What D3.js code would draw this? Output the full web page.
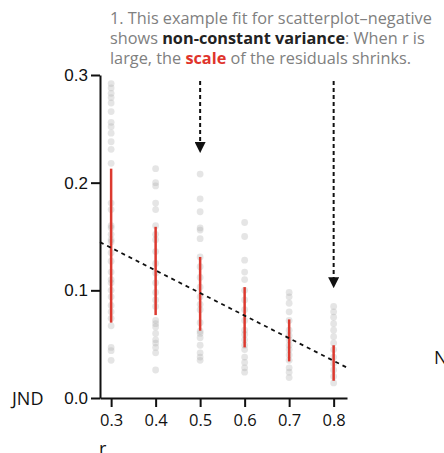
<!DOCTYPE html>
<html>
<head>
<meta charset="utf-8">
<script src="https://cdn.jsdelivr.net/npm/d3@7"></script>
<style>
  body { margin: 0; background: #fff; }
  svg text { font-family: "Open Sans", Lato, sans-serif; }
</style>
</head>
<body>
<div id="chart"></div>
<script>
// correlation levels on the x axis
var rLevels = [0.3, 0.4, 0.5, 0.6, 0.7, 0.8];

var jnd03 = [0.292, 0.288, 0.283, 0.279, 0.274, 0.266, 0.256, 0.252, 0.246, 0.238, 0.231, 0.218,
             0.181, 0.175, 0.160, 0.158, 0.152, 0.147, 0.145, 0.135, 0.127, 0.117, 0.110, 0.107,
             0.100, 0.094, 0.086, 0.080, 0.074, 0.067, 0.047, 0.044, 0.035];
var jnd04 = [0.213, 0.200, 0.197, 0.181, 0.175, 0.160, 0.152, 0.147, 0.136, 0.125, 0.116, 0.107,
             0.098, 0.091, 0.085, 0.072, 0.069, 0.066, 0.060, 0.054, 0.051, 0.047, 0.042, 0.026];
var jnd05 = [0.208, 0.185, 0.173, 0.158, 0.156, 0.148, 0.131, 0.122, 0.112, 0.103, 0.094, 0.087,
             0.082, 0.070, 0.062, 0.060, 0.056, 0.049, 0.042, 0.038, 0.035];
var jnd06 = [0.163, 0.150, 0.128, 0.117, 0.110, 0.100, 0.091, 0.082, 0.072, 0.063, 0.059, 0.054,
             0.049, 0.045, 0.038, 0.033, 0.028, 0.024];
var jnd07 = [0.098, 0.094, 0.088, 0.080, 0.072, 0.063, 0.058, 0.054, 0.049, 0.045, 0.040, 0.035,
             0.028, 0.024, 0.019];
var jnd08 = [0.085, 0.080, 0.075, 0.069, 0.063, 0.057, 0.051, 0.045, 0.038, 0.032, 0.026, 0.020, 0.014];

// red interval per level
var spreadLo = [0.070, 0.077, 0.0625, 0.047, 0.034, 0.016];
var spreadHi = [0.213, 0.159, 0.131, 0.103, 0.073, 0.049];

// dashed fit: jnd = fitA + fitB * r
var fitA = 0.2025, fitB = -0.21;

var yTicks = [0, 0.1, 0.2, 0.3];

// arrows pointing at r = 0.5 and r = 0.8, tip value
var arrowR = [0.5, 0.8];
var arrowTip = [0.2275, 0.102];

var width = 444, height = 453;

var svg = d3.select("#chart").append("svg")
    .attr("width", width)
    .attr("height", height);

var x = d3.scaleLinear().domain([0.275, 0.83]).range([100, 347]);
var y = d3.scaleLinear().domain([0, 0.3]).range([398, 75]);

var groups = [jnd03, jnd04, jnd05, jnd06, jnd07, jnd08];
var points = [];
groups.forEach(function(g, i) {
  g.forEach(function(v) { points.push({r: rLevels[i], v: v}); });
});

// dots
svg.append("g").selectAll("circle")
    .data(points)
    .enter().append("circle")
    .attr("cx", function(d) { return x(d.r); })
    .attr("cy", function(d) { return y(d.v); })
    .attr("r", 3.4)
    .style("fill", "#a8a8a8")
    .style("opacity", 0.3);

// red spread lines
svg.append("g").selectAll("line")
    .data(rLevels)
    .enter().append("line")
    .attr("x1", function(d) { return x(d); })
    .attr("x2", function(d) { return x(d); })
    .attr("y1", function(d, i) { return y(spreadLo[i]); })
    .attr("y2", function(d, i) { return y(spreadHi[i]); })
    .style("stroke", "#dc3a30")
    .style("stroke-width", 2.5);

// fit line
var r0 = x.domain()[0], r1 = x.domain()[1];
svg.append("line")
    .attr("x1", x(r0)).attr("y1", y(fitA + fitB * r0))
    .attr("x2", x(r1)).attr("y2", y(fitA + fitB * r1))
    .style("stroke", "#111")
    .style("stroke-width", 1.8)
    .style("stroke-dasharray", "4,4");

// axes
var xAxis = svg.append("g")
    .attr("transform", "translate(0,398)")
    .call(d3.axisBottom(x).tickValues(rLevels).tickFormat(d3.format(".1f")).tickSize(9).tickSizeOuter(0));
xAxis.selectAll("text").style("font-size", "16.5px").attr("dy", "0.95em").style("fill", "#111");

var yAxis = svg.append("g")
    .attr("transform", "translate(100,0)")
    .call(d3.axisLeft(y).tickValues(yTicks).tickFormat(d3.format(".1f")).tickSize(9).tickSizeOuter(0));
yAxis.selectAll("text").style("font-size", "17px").style("font-family", "'Liberation Sans', Arial, sans-serif").style("fill", "#111");

svg.selectAll(".domain, .tick line").style("stroke", "#111").style("stroke-width", 2);

// arrows
svg.append("defs").append("marker")
    .attr("id", "tri")
    .attr("viewBox", "0 0 10 10")
    .attr("refX", 5).attr("refY", 5)
    .attr("markerWidth", 5.5).attr("markerHeight", 5.5)
    .attr("orient", "auto")
    .attr("markerUnits", "strokeWidth")
  .append("path")
    .attr("d", "M0,0L10,5L0,10Z")
    .style("fill", "#111");

svg.append("g").selectAll("line")
    .data(arrowR)
    .enter().append("line")
    .attr("x1", function(d) { return x(d); })
    .attr("x2", function(d) { return x(d); })
    .attr("y1", 81)
    .attr("y2", function(d, i) { return y(arrowTip[i]) - 5.5; })
    .style("stroke", "#111")
    .style("stroke-width", 2)
    .style("stroke-dasharray", "4,3")
    .attr("marker-end", "url(#tri)");

// annotation
var note = svg.append("text")
    .attr("x", 110)
    .style("font-size", "16.3px")
    .style("fill", "#808080");
note.append("tspan").attr("x", 110).attr("y", 24)
    .text("1. This example fit for scatterplot\u2013negative");
note.append("tspan").attr("x", 110).attr("y", 44).text("shows ");
note.append("tspan").style("font-weight", "bold").style("fill", "#222").text("non-constant variance");
note.append("tspan").text(": When r is");
note.append("tspan").attr("x", 110).attr("y", 64).text("large, the ");
note.append("tspan").style("font-weight", "bold").style("fill", "#e0342c").text("scale");
note.append("tspan").text(" of the residuals shrinks.");

// axis titles
svg.append("text").attr("x", 12).attr("y", 405).style("font-size", "18px").style("fill", "#111").text("JND");
svg.append("text").attr("x", 99).attr("y", 455).style("font-size", "18px").style("fill", "#111").text("r");
svg.append("text").attr("x", 434).attr("y", 364).style("font-size", "18px").style("fill", "#111").text("N");
</script>
</body>
</html>
